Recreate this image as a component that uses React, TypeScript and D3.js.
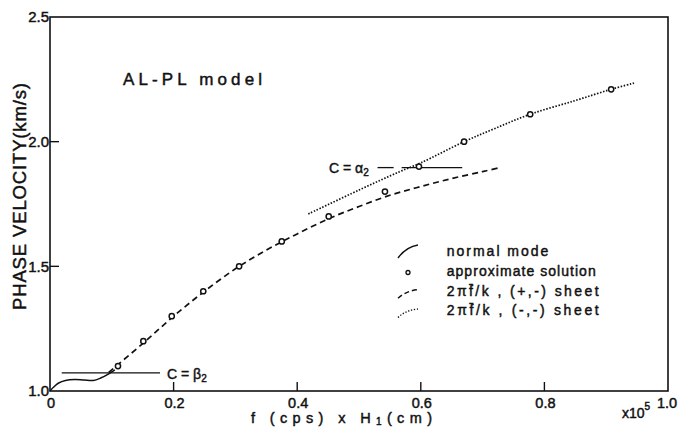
import * as d3 from "d3"

// axis ticks
const xTicks = [0, 0.2, 0.4, 0.6, 0.8, 1.0]
const yTicks = [1.0, 1.5, 2.0, 2.5]

// approximate solution (circles)
const approxF = [0.11, 0.151, 0.197, 0.248, 0.306, 0.375, 0.451, 0.542, 0.597, 0.67, 0.777, 0.908]
const approxC = [1.1, 1.2, 1.3, 1.4, 1.5, 1.6, 1.7, 1.8, 1.9, 2.0, 2.11, 2.21]

// normal mode (solid)
const normalF = [0, 0.006, 0.014, 0.025, 0.04, 0.055, 0.07, 0.082, 0.095, 0.105]
const normalC = [1.0, 1.016, 1.032, 1.042, 1.046, 1.044, 1.042, 1.052, 1.069, 1.085]

// 2*pi*fbar/k, (+,-) sheet (dashed)
const plusF = [0.095, 0.15, 0.2, 0.25, 0.3, 0.35, 0.4, 0.45, 0.5, 0.55, 0.6, 0.65, 0.7, 0.73]
const plusC = [1.075, 1.19, 1.3, 1.4, 1.49, 1.565, 1.63, 1.69, 1.74, 1.785, 1.82, 1.852, 1.88, 1.897]

// 2*pi*fbar/k, (-,-) sheet (dotted)
const minusF = [0.418, 0.5, 0.566, 0.6, 0.67, 0.72, 0.777, 0.85, 0.908, 0.945]
const minusC = [1.71, 1.806, 1.88, 1.915, 2.0, 2.053, 2.11, 2.165, 2.21, 2.235]

// reference velocities
const beta2 = 1.073
const beta2Span = [0.019, 0.178]
const alpha2 = 1.896
const alpha2Spans = [[0.53, 0.556], [0.569, 0.667]]

const legendLabels = ["normal mode", "approximate solution", "2\u03c0f\u0304/k , (+,-) sheet", "2\u03c0f\u0304/k , (-,-) sheet"]

const font = "'Liberation Sans', 'DejaVu Sans', sans-serif"

export default function App() {
  const W = 679
  const H = 429
  const x = d3.scaleLinear().domain([0, 1]).range([50, 668])
  const y = d3.scaleLinear().domain([1, 2.5]).range([391, 17])

  const line = d3
    .line<[number, number]>()
    .x((d) => d[0])
    .y((d) => d[1])
    .curve(d3.curveCatmullRom)

  const zip = (a: number[], b: number[]) => a.map((v, i) => [x(v), y(b[i])] as [number, number])

  const ink = "#111"
  // slight outline to get the heavy lettering of the original
  const bold = { stroke: ink, strokeWidth: 0.45 }
  const lx = 398
  const ty = [256, 276, 295.7, 315]

  return (
    <svg
      width={W}
      height={H}
      style={{ position: "absolute", left: 0, top: 0, background: "#fff" }}
      fontFamily={font}
    >
      <rect x={0} y={0} width={W} height={H} fill="#fff" />

      {/* frame */}
      <rect x={x(0)} y={y(2.5)} width={x(1) - x(0)} height={y(1) - y(2.5)} fill="none" stroke={ink} strokeWidth={1.6} />

      {/* x ticks */}
      {xTicks.map((t) => (
        <g key={"xt" + t}>
          {t > 0 && t < 1 && <line x1={x(t)} x2={x(t)} y1={y(1)} y2={y(1) - 9} stroke={ink} strokeWidth={1.4} />}
          <text x={x(t) + (t === 1 ? -1 : 1)} y={407.5} textAnchor="middle" fontSize={14.5} fill={ink} {...bold}>
            {t === 0 ? "0" : t.toFixed(1)}
          </text>
        </g>
      ))}
      <text x={622} y={418} fontSize={14} fill={ink} {...bold}>
        x10
        <tspan dy={-8} fontSize={10}>5</tspan>
      </text>

      {/* y ticks */}
      {yTicks.map((t) => (
        <g key={"yt" + t}>
          {t > 1 && t < 2.5 && <line x1={x(0)} x2={x(0) + 9} y1={y(t)} y2={y(t)} stroke={ink} strokeWidth={1.4} />}
          <text x={49} y={y(t)} dy="0.36em" textAnchor="end" fontSize={15} fill={ink} {...bold}>
            {t.toFixed(1)}
          </text>
        </g>
      ))}

      {/* axis titles */}
      <text x={251} y={423} fontSize={14.5} fill={ink} textLength={181} lengthAdjust="spacing" {...bold}>
        f (cps) x H<tspan fontSize={10} dy={2}>1</tspan>
        <tspan dy={-2}>(cm)</tspan>
      </text>
      <text
        transform="translate(25.5,196.5) rotate(-90)"
        textAnchor="middle"
        fontSize={18.5}
        fill={ink}
        textLength={227}
        lengthAdjust="spacing"
        {...bold}
      >
        PHASE VELOCITY(km/s)
      </text>

      <text x={123} y={85} fontSize={17} fill={ink} textLength={139} lengthAdjust="spacing" {...bold}>
        AL-PL model
      </text>

      {/* reference lines */}
      <line x1={x(beta2Span[0])} x2={x(beta2Span[1])} y1={y(beta2)} y2={y(beta2)} stroke={ink} strokeWidth={1.3} />
      <text x={167} y={379} fontSize={14} fill={ink} {...bold}>
        C = β<tspan fontSize={10} dy={3}>2</tspan>
      </text>
      {alpha2Spans.map((s, i) => (
        <line key={"a" + i} x1={x(s[0])} x2={x(s[1])} y1={y(alpha2)} y2={y(alpha2)} stroke={ink} strokeWidth={1.3} />
      ))}
      <text x={329} y={173} fontSize={14} fill={ink} {...bold}>
        C = α<tspan fontSize={10} dy={3}>2</tspan>
      </text>

      {/* curves */}
      <path d={line(zip(normalF, normalC)) || ""} fill="none" stroke={ink} strokeWidth={1.5} />
      <path d={line(zip(plusF, plusC)) || ""} fill="none" stroke={ink} strokeWidth={1.7} strokeDasharray="6,4" />
      <path d={line(zip(minusF, minusC)) || ""} fill="none" stroke={ink} strokeWidth={1.7} strokeDasharray="1.5,1.6" />

      {/* approximate solution */}
      {approxF.map((f, i) => (
        <circle key={"c" + i} cx={x(f)} cy={y(approxC[i])} r={2.6} fill="#fff" stroke={ink} strokeWidth={1.5} />
      ))}

      {/* legend */}
      <path d={`M${lx},${ty[0] + 2} Q${lx + 8},${ty[0] - 9} ${lx + 20},${ty[0] - 11}`} fill="none" stroke={ink} strokeWidth={1.4} />
      <circle cx={lx + 10} cy={ty[1] - 3.5} r={2} fill="#fff" stroke={ink} strokeWidth={1.3} />
      <path d={`M${lx},${ty[2] + 2.5} Q${lx + 8},${ty[2] - 5} ${lx + 20},${ty[2] - 6}`} fill="none" stroke={ink} strokeWidth={1.4} strokeDasharray="5,3" />
      <path d={`M${lx},${ty[3] + 2.5} Q${lx + 8},${ty[3] - 5} ${lx + 20},${ty[3] - 6}`} fill="none" stroke={ink} strokeWidth={1.4} strokeDasharray="1.3,1.7" />
      {legendLabels.map((l, i) => (
        <text
          key={l}
          x={446.7}
          y={ty[i]}
          fontSize={14}
          fill={ink}
          textLength={[101.7, 149, 152, 152][i]}
          lengthAdjust="spacing"
          {...bold}
        >
          {l}
        </text>
      ))}
    </svg>
  )
}
